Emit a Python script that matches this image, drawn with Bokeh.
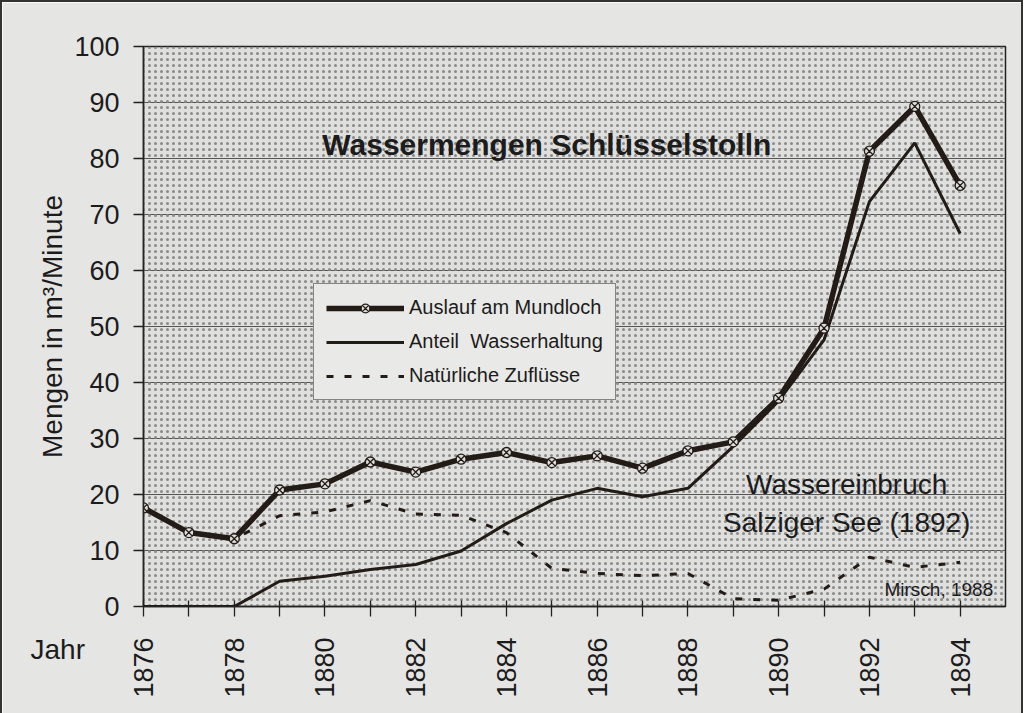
from math import pi
from bokeh.plotting import figure
from bokeh.models import FixedTicker, Label, BoxAnnotation, Legend, LegendItem
from bokeh.embed import file_html
from bokeh.resources import INLINE

# ---- data ----
years = [1876, 1877, 1878, 1879, 1880, 1881, 1882, 1883, 1884, 1885,
         1886, 1887, 1888, 1889, 1890, 1891, 1892, 1893, 1894]
auslauf = [17.6, 13.2, 12.1, 20.8, 21.9, 25.8, 24.0, 26.3, 27.5, 25.7,
           26.9, 24.7, 27.8, 29.4, 37.2, 49.7, 81.3, 89.3, 75.2]
wasserhaltung = [0, 0, 0, 4.5, 5.4, 6.6, 7.5, 9.9, 14.8, 19.0,
                 21.1, 19.6, 21.1, 28.6, 36.7, 47.6, 72.3, 82.8, 66.6]
zufluesse = [17.6, 13.2, 12.1, 16.2, 16.9, 18.9, 16.5, 16.3, 13.2, 6.8,
             5.9, 5.5, 5.9, 1.4, 1.1, 3.1, 8.8, 7.0, 7.9]
y_ticks = [0, 10, 20, 30, 40, 50, 60, 70, 80, 90, 100]
x_label_years = [1876, 1878, 1880, 1882, 1884, 1886, 1888, 1890, 1892, 1894]

series_names = ["Auslauf am Mundloch", "Anteil  Wasserhaltung", "Natürliche Zuflüsse"]
title_text = "Wassermengen Schlüsselstolln"
note1 = "Wassereinbruch"
note2 = "Salziger See (1892)"
credit = "Mirsch, 1988"
x_title = "Jahr"

FONT = "Liberation Sans"
INK = "#231b16"
TXT = "#1c1c1c"

p = figure(x_range=(1876, 1895), y_range=(0, 100),
           frame_width=862, frame_height=560,
           min_border_left=141, min_border_right=16,
           min_border_top=44, min_border_bottom=93,
           output_backend="svg", toolbar_location=None,
           background_fill_color="#dfdfdd", border_fill_color="#e5e5e3")
p.styles = {"border-left": "2px solid #333", "border-top": "2px solid #333",
            "border-right": "2px solid #333"}

p.outline_line_color = "#222"
p.outline_line_width = 1.5

# stipple pattern of the plot area
p.add_layout(BoxAnnotation(fill_alpha=0, line_alpha=0, hatch_pattern="dot",
                           hatch_color="#8a8a8a", hatch_scale=6,
                           hatch_weight=1.1, level="underlay"))

p.xgrid.visible = False
p.ygrid.grid_line_color = "#555555"
p.ygrid.grid_line_width = 1.2
p.ygrid.ticker = FixedTicker(ticks=y_ticks)

# axes
p.yaxis.ticker = FixedTicker(ticks=y_ticks, minor_ticks=[])
p.yaxis.major_tick_in = 0
p.yaxis.major_tick_out = 10
p.yaxis.major_label_standoff = 14
p.yaxis.major_label_text_font = FONT
p.yaxis.major_label_text_font_size = "27px"
p.yaxis.major_label_text_color = TXT
p.yaxis.axis_label = "Mengen in m³/Minute"
p.yaxis.axis_label_text_font = FONT
p.yaxis.axis_label_text_font_style = "normal"
p.yaxis.axis_label_text_font_size = "28px"
p.yaxis.axis_label_text_color = TXT
p.yaxis.axis_label_standoff = 3

p.xaxis.ticker = FixedTicker(ticks=years, minor_ticks=[])
p.xaxis.major_label_overrides = {y: (str(y) if y in x_label_years else "") for y in years}
p.xaxis.major_label_orientation = pi / 2
p.xaxis.major_tick_in = 6
p.xaxis.major_tick_out = 10
p.xaxis.major_label_standoff = 21
p.xaxis.major_label_text_font = FONT
p.xaxis.major_label_text_font_size = "27px"
p.xaxis.major_label_text_color = TXT

for ax in (p.xaxis, p.yaxis):
    ax.axis_line_color = "#222"
    ax.axis_line_width = 1.5
    ax.major_tick_line_color = "#222"
    ax.major_tick_line_width = 1.3

# series
r_nat = p.line(years, zufluesse, line_width=3, line_color=INK, line_dash="7 11")
r_was = p.line(years, wasserhaltung, line_width=3, line_color=INK)
r_aus = p.line(years, auslauf, line_width=5.5, line_color=INK)
s_aus = p.scatter(years, auslauf, marker="circle_x", size=10, fill_color="#dcdcda",
                  line_color=INK, line_width=1.3)

legend = Legend(items=[LegendItem(label=series_names[0], renderers=[r_aus, s_aus]),
                       LegendItem(label=series_names[1], renderers=[r_was]),
                       LegendItem(label=series_names[2], renderers=[r_nat])],
                location=(170, 206))
legend.glyph_width = 78
legend.glyph_height = 22
legend.label_height = 22
legend.spacing = 11
legend.padding = 12
legend.margin = 0
legend.label_standoff = 5
legend.label_text_font = FONT
legend.label_text_font_size = "20px"
legend.label_text_color = TXT
legend.border_line_color = "#222"
legend.border_line_width = 1.5
legend.background_fill_color = "#e9e9e7"
legend.background_fill_alpha = 1
p.add_layout(legend)

# texts
p.add_layout(Label(x=1884.89, y=82.5, text=title_text, text_font=FONT,
                   text_font_style="bold", text_font_size="30px", text_color=TXT,
                   text_align="center", text_baseline="alphabetic"))
p.add_layout(Label(x=1891.5, y=21.8, text=note1, text_font=FONT,
                   text_font_size="28px", text_color=TXT,
                   text_align="center", text_baseline="alphabetic"))
p.add_layout(Label(x=1891.5, y=15.0, text=note2, text_font=FONT,
                   text_font_size="28px", text_color=TXT,
                   text_align="center", text_baseline="alphabetic"))
p.add_layout(Label(x=1894.73, y=3.0, text=credit, text_font=FONT,
                   text_font_size="19px", text_color=TXT,
                   text_align="right", text_baseline="alphabetic"))
# "Jahr" sits outside the plot frame, so it goes into the bottom side panel
p.add_layout(Label(x=1873.51, y=-7.7, text=x_title, text_font=FONT,
                   text_font_size="28px", text_color=TXT,
                   text_align="left", text_baseline="middle"), "below")

open("out.html", "w").write(file_html(p, INLINE))
